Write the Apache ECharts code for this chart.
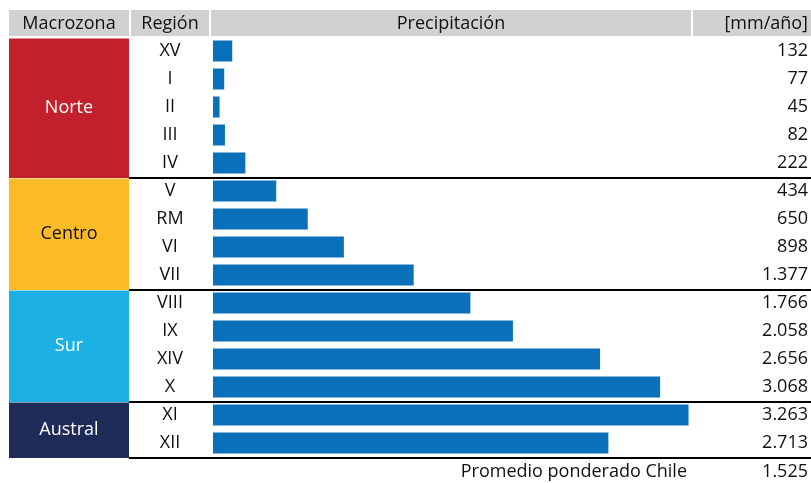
<!DOCTYPE html>
<html>
<head>
<meta charset="utf-8">
<script src="https://cdn.jsdelivr.net/npm/echarts@6/dist/echarts.min.js"></script>
<style>
  html, body { margin: 0; padding: 0; background: #fff; }
  #chart { width: 811px; height: 483px; }
</style>
</head>
<body>
<div id="chart"></div>
<script>
// datos
var regiones = ['XV', 'I', 'II', 'III', 'IV', 'V', 'RM', 'VI', 'VII', 'VIII', 'IX', 'XIV', 'X', 'XI', 'XII'];
var precipitacion = [132, 77, 45, 82, 222, 434, 650, 898, 1377, 1766, 2058, 2656, 3068, 3263, 2713];
var macrozonas = ['Norte', 'Centro', 'Sur', 'Austral'];
var macroInicio = [0, 5, 9, 13];
var macroFin = [4, 8, 12, 14];
var macroColores = ['#C2202A', '#FDBA27', '#1CB0E5', '#1E2B58'];
var macroTexto = ['#ffffff', '#111111', '#ffffff', '#ffffff'];
var encabezados = ['Macrozona', 'Región', 'Precipitación', '[mm/año]'];
var promedioChile = 1525;

var FONT = '"Open Sans", sans-serif';
var FS = 18;
var TXT = '#111111';

function fmt(n) {
  return String(n).replace(/\B(?=(\d{3})+(?!\d))/g, '.');
}

var myChart = echarts.init(document.getElementById('chart'));

var macroData = [];
for (var i = 0; i < macrozonas.length; i++) {
  macroData.push([macroInicio[i], macroFin[i], i]);
}

var headerGray = '#D0D1D1';

var option = {
  backgroundColor: '#fff',
  animation: false,
  grid: { left: 213, top: 37, width: 478, height: 420, containLabel: false },
  xAxis: {
    type: 'value', min: 0, max: 3280, show: false
  },
  yAxis: [
    {
      type: 'category',
      data: regiones,
      inverse: true,
      axisLine: { show: false },
      axisTick: { show: false },
      splitLine: { show: false },
      axisLabel: {
        align: 'center',
        margin: 43,
        color: TXT,
        fontFamily: FONT,
        fontSize: FS,
        padding: [3, 0, 0, 0]
      }
    },
    {
      type: 'category',
      position: 'right',
      data: precipitacion.map(fmt),
      inverse: true,
      axisLine: { show: false },
      axisTick: { show: false },
      splitLine: { show: false },
      axisLabel: {
        align: 'right',
        margin: 117,
        color: TXT,
        fontFamily: FONT,
        fontSize: FS,
        padding: [3, 0, 0, 0]
      }
    }
  ],
  graphic: [
    { type: 'rect', shape: { x: 9, y: 10, width: 120, height: 26 }, style: { fill: headerGray } },
    { type: 'rect', shape: { x: 131, y: 10, width: 78, height: 26 }, style: { fill: headerGray } },
    { type: 'rect', shape: { x: 211, y: 10, width: 480, height: 26 }, style: { fill: headerGray } },
    { type: 'rect', shape: { x: 693, y: 10, width: 118, height: 26 }, style: { fill: headerGray } },
    { type: 'text', style: { text: encabezados[0], x: 69, y: 24, align: 'center', verticalAlign: 'middle', fill: TXT, font: FS + 'px ' + FONT } },
    { type: 'text', style: { text: encabezados[1], x: 170, y: 24, align: 'center', verticalAlign: 'middle', fill: TXT, font: FS + 'px ' + FONT } },
    { type: 'text', style: { text: encabezados[2], x: 451, y: 24, align: 'center', verticalAlign: 'middle', fill: TXT, font: FS + 'px ' + FONT } },
    { type: 'text', style: { text: encabezados[3], x: 808, y: 24, align: 'right', verticalAlign: 'middle', fill: TXT, font: FS + 'px ' + FONT } },
    { type: 'text', style: { text: 'Promedio ponderado Chile', x: 687, y: 472, align: 'right', verticalAlign: 'middle', fill: TXT, font: FS + 'px ' + FONT } },
    { type: 'text', style: { text: fmt(promedioChile), x: 808, y: 472, align: 'right', verticalAlign: 'middle', fill: TXT, font: FS + 'px ' + FONT } }
  ],
  series: [
    {
      type: 'bar',
      data: precipitacion,
      barWidth: 21,
      itemStyle: { color: '#0B70BA' },
      silent: true
    },
    {
      type: 'custom',
      clip: false,
      silent: true,
      data: macroData,
      encode: { y: [0, 1] },
      renderItem: function (params, api) {
        var s = api.value(0), e = api.value(1), k = api.value(2);
        var band = api.size([0, 1])[1];
        var top = api.coord([0, s])[1] - band / 2;
        var bottom = api.coord([0, e])[1] + band / 2;
        return {
          type: 'group',
          children: [
            {
              type: 'rect',
              shape: { x: 9, y: top + 1.5, width: 120, height: bottom - top - 0.5 },
              style: { fill: macroColores[k] }
            },
            {
              type: 'text',
              style: {
                text: macrozonas[k], x: 69, y: (top + bottom) / 2 + 1,
                align: 'center', verticalAlign: 'middle',
                fill: macroTexto[k], font: FS + 'px ' + FONT
              }
            },
            {
              type: 'line',
              shape: { x1: 129, y1: bottom + 1, x2: 811, y2: bottom + 1 },
              style: { stroke: '#000', lineWidth: 2 }
            }
          ]
        };
      }
    }
  ]
};

myChart.setOption(option);
</script>
</body>
</html>
